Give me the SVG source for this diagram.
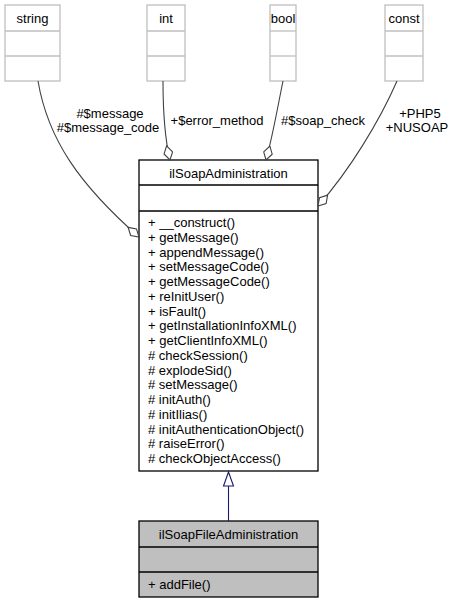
<svg xmlns="http://www.w3.org/2000/svg" width="457" height="604" viewBox="0 0 457 604">
<style>
text{font-family:"Liberation Sans",Arial,Helvetica,sans-serif;font-size:13px;fill:#000}
.c{text-anchor:middle}
.gray rect,.gray line{stroke:#bfbfbf;stroke-width:1.3}
.gray rect{fill:#fff}
.main rect,.main line{stroke:#000;stroke-width:1.3}
.edge{fill:none;stroke:#404040;stroke-width:1.1}
</style>
<defs>
<marker id="dia" markerUnits="userSpaceOnUse" markerWidth="18" markerHeight="12" refX="15" refY="5" orient="auto">
<path d="M0.5,5 L7.75,0.6 L15,5 L7.75,9.4 Z" fill="#fff" stroke="#404040" stroke-width="1.1"/>
</marker>
</defs>
<g id="string" class="gray">
<rect x="5" y="5" width="55" height="76"/>
<line x1="5" y1="31" x2="60" y2="31"/>
<line x1="5" y1="56" x2="60" y2="56"/>
<text class="c" x="32.5" y="23">string</text>
</g>
<g id="int" class="gray">
<rect x="147" y="5" width="38" height="76"/>
<line x1="147" y1="31" x2="185" y2="31"/>
<line x1="147" y1="56" x2="185" y2="56"/>
<text class="c" x="166" y="23">int</text>
</g>
<g id="bool" class="gray">
<rect x="270" y="5" width="26" height="76"/>
<line x1="270" y1="31" x2="296" y2="31"/>
<line x1="270" y1="56" x2="296" y2="56"/>
<text class="c" x="283" y="23">bool</text>
</g>
<g id="const" class="gray">
<rect x="385" y="5" width="38" height="76"/>
<line x1="385" y1="31" x2="423" y2="31"/>
<line x1="385" y1="56" x2="423" y2="56"/>
<text class="c" x="404" y="23">const</text>
</g>
<g id="ilSoapAdministration" class="main">
<rect x="139" y="160" width="179" height="311" fill="#fff"/>
<line x1="139" y1="185" x2="318" y2="185"/>
<line x1="139" y1="211" x2="318" y2="211"/>
<text class="c" x="228.5" y="178">ilSoapAdministration</text>
<text x="148" y="227">+ __construct()</text>
<text x="148" y="241.75">+ getMessage()</text>
<text x="148" y="256.5">+ appendMessage()</text>
<text x="148" y="271.25">+ setMessageCode()</text>
<text x="148" y="286">+ getMessageCode()</text>
<text x="148" y="300.75">+ reInitUser()</text>
<text x="148" y="315.5">+ isFault()</text>
<text x="148" y="330.25">+ getInstallationInfoXML()</text>
<text x="148" y="345">+ getClientInfoXML()</text>
<text x="148" y="359.75"># checkSession()</text>
<text x="148" y="374.5"># explodeSid()</text>
<text x="148" y="389.25"># setMessage()</text>
<text x="148" y="404"># initAuth()</text>
<text x="148" y="418.75"># initIlias()</text>
<text x="148" y="433.5"># initAuthenticationObject()</text>
<text x="148" y="448.25"># raiseError()</text>
<text x="148" y="463"># checkObjectAccess()</text>
</g>
<g id="ilSoapFileAdministration" class="main">
<rect x="139" y="521" width="179" height="76" fill="#bfbfbf"/>
<line x1="139" y1="547" x2="318" y2="547"/>
<line x1="139" y1="572" x2="318" y2="572"/>
<text class="c" x="228.5" y="539">ilSoapFileAdministration</text>
<text x="148" y="589">+ addFile()</text>
</g>
<g id="connectors">
<path class="edge" d="M38,81 C48,140 80,185 139,237" marker-end="url(#dia)"/>
<path class="edge" d="M163,81 C163,110 164,135 170,160" marker-end="url(#dia)"/>
<path class="edge" d="M283,81 C278,105 273,135 266,160" marker-end="url(#dia)"/>
<path class="edge" d="M397,81 C380,120 350,170 318,206" marker-end="url(#dia)"/>
<path d="M228.5,521 L228.5,486" fill="none" stroke="#191970" stroke-width="1.1"/>
<path d="M228.5,472 L233.5,486 L223.5,486 Z" fill="#fff" stroke="#191970" stroke-width="1.1"/>
<text class="c" x="110" y="118">#$message</text>
<text class="c" x="108" y="132">#$message_code</text>
<text class="c" x="217" y="125">+$error_method</text>
<text class="c" x="323" y="125">#$soap_check</text>
<text class="c" x="420" y="118">+PHP5</text>
<text class="c" x="417" y="132">+NUSOAP</text>
</g>
</svg>
